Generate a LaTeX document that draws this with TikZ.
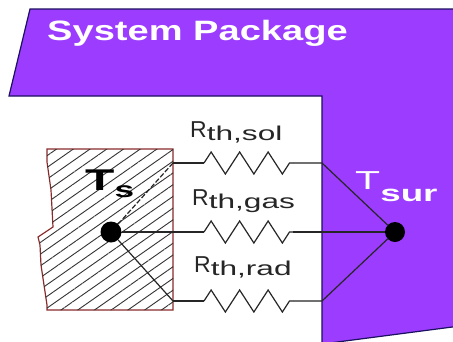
\documentclass[tikz,border=0pt]{standalone}
\usepackage{fontspec}
\newfontfamily\wideheavy[FakeStretch=1.36]{Liberation Sans Bold}
\newfontfamily\widerheavy[FakeStretch=1.6]{Liberation Sans Bold}
\newfontfamily\widelabel[FakeStretch=1.58]{Liberation Sans}
\newfontfamily\plainlabel{Liberation Sans}
\usetikzlibrary{patterns.meta, decorations.pathmorphing}
\definecolor{packagepurple}{HTML}{9B3CFF}
\definecolor{packageedge}{HTML}{1C1060}
\definecolor{chipedge}{HTML}{8A2B2B}
\tikzset{
	wire/.style = {draw=black!85, line width=1.2pt},
	res/.style = {wire, decorate, decoration={zigzag, segment length=28.5pt, amplitude=11pt}},
	dot/.style = {circle, fill=black, inner sep=0pt, minimum size=21pt},
	sinkdot/.style = {dot, minimum size=20pt},
	rlabel/.style = {inner sep=0pt, anchor=base west, text=black!85},
}
\newcommand{\rname}[1]{{\fontsize{23}{23}\plainlabel R}\raisebox{-3pt}{\fontsize{20}{20}\widelabel th,#1}}
\begin{document}
\begin{tikzpicture}[x=1pt, y=-1pt]
			\useasboundingbox (0,0) rectangle (453,341);
			\clip (0,0) rectangle (453,341);

			\fill[white] (0,0) rectangle (453,341);
			\fill[packagepurple, draw=packageedge, line width=1.2pt] (30,9) -- (460,9) -- (460,326) -- (322,344) -- (322,96) -- (9,96) -- cycle;

			\path[draw=chipedge, line width=1.2pt, fill=white, postaction={pattern={Lines[angle=35, distance=9.6pt, line width=0.9pt]}, pattern color=black!80}]
			(47,149) -- (173,149) -- (173,310) -- (47,310) -- (47,305) -- (41,265) -- (40,245) -- (38,237) -- (53,227) -- (51,190) -- (47,162) -- cycle;

			\node[dot] (ts) at (111,232) {};
			\node[sinkdot] (tsur) at (395,232) {};

			\coordinate (sol1) at (173,163);
			\coordinate (sol2) at (204,163);
			\coordinate (sol3) at (293,163);
			\coordinate (sol4) at (322,163);
			\coordinate (gas1) at (173,232);
			\coordinate (gas2) at (204,232);
			\coordinate (gas3) at (293,232);
			\coordinate (gas4) at (322,232);
			\coordinate (rad1) at (173,301);
			\coordinate (rad2) at (204,301);
			\coordinate (rad3) at (293,301);
			\coordinate (rad4) at (322,301);

			\draw[wire, dashed, dash pattern=on 5pt off 2pt] (ts) -- (sol1);
			\draw[wire] (ts) -- (gas1);
			\draw[wire] (ts) -- (rad1);

			\draw[wire] (sol1) -- (sol2);
			\draw[res] (sol2) -- (sol3);
			\draw[wire] (sol3) -- (sol4) -- (tsur);
			\draw[wire] (gas1) -- (gas2);
			\draw[res] (gas2) -- (gas3);
			\draw[wire] (gas3) -- (gas4) -- (tsur);
			\draw[wire] (rad1) -- (rad2);
			\draw[res] (rad2) -- (rad3);
			\draw[wire] (rad3) -- (rad4) -- (tsur);

			\node[inner sep=0pt, anchor=base west, text=white] (title) at (47,40) {\fontsize{28}{28}\wideheavy System Package};
			\node[rlabel] (rsol) at (190,137) {\rname{sol}};
			\node[rlabel] (rgas) at (192,205) {\rname{gas}};
			\node[rlabel] (rrad) at (194,272) {\rname{rad}};
			\node[inner sep=0pt, anchor=base west] (tslabel) at (85,190) {\fontsize{30}{30}\widerheavy T\raisebox{-7pt}{\fontsize{22}{22}\selectfont s}};
			\node[inner sep=0pt, anchor=base west, text=white] (tsurlabel) at (355,189) {\fontsize{26}{26}\widelabel T\raisebox{-12pt}{\fontsize{23}{23}\widerheavy sur}};
		\end{tikzpicture}
\end{document}
